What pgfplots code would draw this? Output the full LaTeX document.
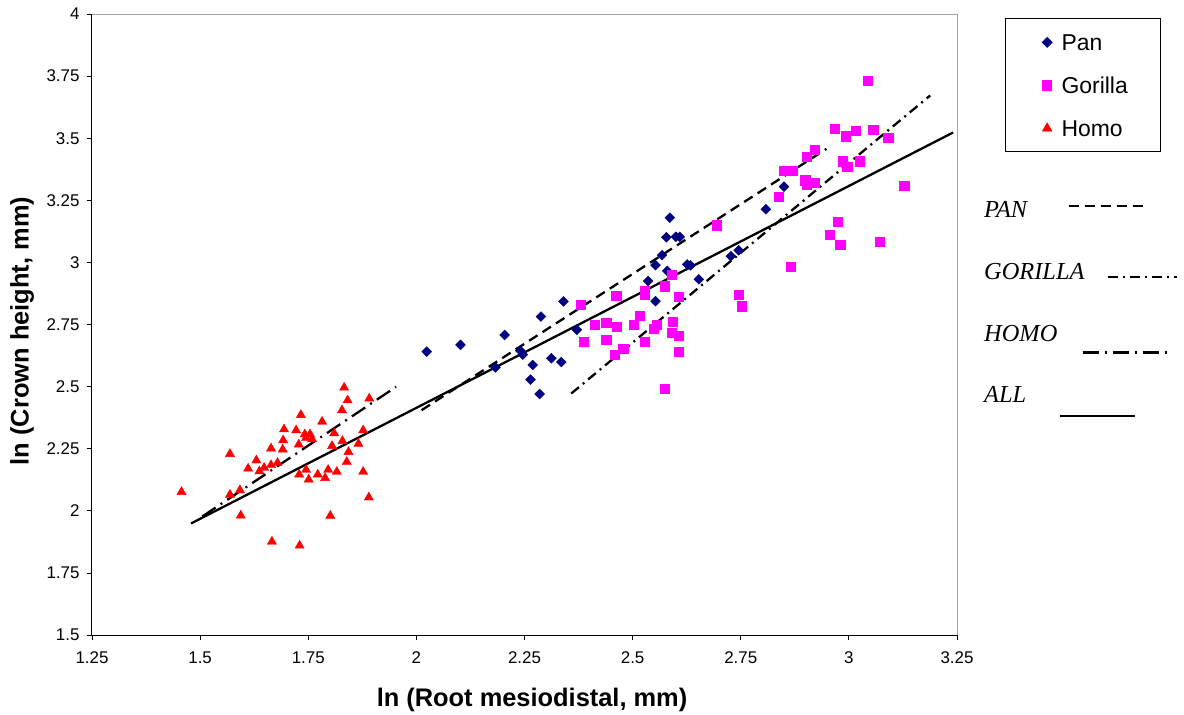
\documentclass[border=0pt]{standalone}
\usepackage{fontspec}
\setmainfont{Liberation Sans}
\newfontfamily\timesfont{Liberation Serif}
\usepackage{pgfplots}
\pgfplotsset{compat=1.18}
\definecolor{pancol}{RGB}{0,0,128}
\definecolor{gorcol}{RGB}{255,0,255}
\definecolor{homcol}{RGB}{255,0,0}
\begin{document}
\begin{tikzpicture}
\useasboundingbox (-92bp,-80bp) rectangle (1092bp,635bp);
\begin{axis}[
 scale only axis, width=865bp, height=621bp,
 xmin=1.25, xmax=3.25, ymin=1.5, ymax=4,
 axis lines*=left,
 axis line style={black, line width=1bp},
 xtick={1.25,1.5,1.75,2,2.25,2.5,2.75,3,3.25},
 ytick={1.5,1.75,2,2.25,2.5,2.75,3,3.25,3.5,3.75,4},
 tick align=outside, major tick length=5bp,
 tick style={black, line width=0.8bp},
 /pgf/number format/assume math mode=true,
 ticklabel style={font=\fontsize{17}{17}\selectfont},
 xticklabel style={yshift=-8bp},
 yticklabel style={xshift=-4bp},
 xlabel={ln (Root mesiodistal, mm)},
 ylabel={ln (Crown height, mm)},
 xlabel style={font=\bfseries\fontsize{25.5}{25.5}\selectfont, at={(axis description cs:0.5087,-0.1047)}, anchor=center},
 ylabel style={font=\bfseries\fontsize{25.5}{25.5}\selectfont, at={(axis description cs:-0.0809,0.4895)}, anchor=center},
 clip=false,
 legend style={at={(axis description cs:1.2358,0.9928)}, anchor=north east, draw=black, line width=0.8bp, fill=white,
   font=\fontsize{23}{23}\selectfont, inner xsep=5bp, inner ysep=15.5bp, row sep=27bp,
   nodes={inner sep=0pt, text height=16bp, text depth=0bp}},
 legend cell align=left,
 legend image code/.code={\path (-36bp,0bp) (14bp,0bp); \draw plot coordinates {(0bp,0bp)};},
]
\addplot[only marks, mark=square*, mark size=3.5bp, color=pancol, mark options={rotate=45, fill=pancol, draw=pancol}] coordinates {
(2.024,2.641) (2.102,2.668) (2.204,2.708) (2.288,2.782) (2.340,2.843) (2.183,2.577)
(2.240,2.645) (2.246,2.629) (2.269,2.587) (2.264,2.528) (2.285,2.470) (2.312,2.614)
(2.335,2.599) (2.371,2.729) (2.553,2.844) (2.536,2.925) (2.553,2.989) (2.568,3.029)
(2.580,2.966) (2.586,3.180) (2.578,3.101) (2.600,3.103) (2.609,3.103) (2.626,2.992)
(2.634,2.988) (2.653,2.932) (2.727,3.025) (2.745,3.049) (2.808,3.214) (2.850,3.305)
};
\addlegendentry{Pan}
\addplot[only marks, mark=square*, mark size=4.6bp, color=gorcol, mark options={fill=gorcol, draw=gorcol}] coordinates {
(2.380,2.830) (2.462,2.867) (2.412,2.749) (2.439,2.757) (2.464,2.742) (2.387,2.682)
(2.439,2.688) (2.478,2.652) (2.458,2.627) (2.503,2.750) (2.516,2.786) (2.528,2.885)
(2.528,2.871) (2.574,2.904) (2.590,2.952) (2.607,2.863) (2.549,2.733) (2.555,2.750)
(2.527,2.680) (2.592,2.762) (2.591,2.716) (2.607,2.706) (2.607,2.642) (2.574,2.492)
(2.694,3.150) (3.043,3.730) (2.968,3.538) (2.992,3.508) (3.015,3.530) (3.056,3.535)
(3.091,3.502) (2.921,3.454) (2.903,3.427) (2.850,3.370) (2.871,3.370) (2.985,3.407)
(2.996,3.384) (3.025,3.407) (2.899,3.331) (2.902,3.315) (2.920,3.322) (2.838,3.264)
(3.128,3.309) (2.975,3.164) (2.955,3.110) (2.980,3.072) (3.072,3.083) (2.866,2.982)
(2.746,2.871) (2.753,2.824)
};
\addlegendentry{\makebox[94bp][l]{Gorilla}}
\addplot[only marks, mark=triangle*, mark size=5.3bp, color=homcol, mark options={fill=homcol, draw=homcol}] coordinates {
(1.833,2.496) (1.841,2.445) (1.891,2.452) (1.828,2.405) (1.733,2.386) (1.782,2.359)
(1.694,2.328) (1.722,2.324) (1.742,2.308) (1.754,2.308) (1.810,2.312) (1.877,2.324)
(1.692,2.284) (1.728,2.267) (1.745,2.294) (1.759,2.288) (1.829,2.281) (1.866,2.270)
(1.805,2.261) (1.664,2.251) (1.691,2.247) (1.843,2.237) (1.569,2.229) (1.630,2.203)
(1.839,2.197) (1.611,2.170) (1.637,2.159) (1.648,2.173) (1.664,2.184) (1.679,2.193)
(1.745,2.165) (1.729,2.146) (1.751,2.126) (1.772,2.146) (1.789,2.132) (1.796,2.165)
(1.816,2.157) (1.877,2.157) (1.457,2.076) (1.569,2.065) (1.592,2.083) (1.890,2.054)
(1.594,1.981) (1.801,1.980) (1.666,1.876) (1.730,1.860)
};
\addlegendentry{Homo}
\addplot[forget plot, black, line width=2.3bp, line cap=butt] coordinates {(1.479,1.949) (3.241,3.523)};
\addplot[forget plot, black, line width=2.3bp, line cap=butt, dash pattern=on 10bp off 6bp] coordinates {(2.012,2.405) (2.948,3.457)};
\addplot[forget plot, black, line width=2.3bp, line cap=butt, dash pattern=on 10bp off 5bp on 2bp off 5bp] coordinates {(2.358,2.472) (3.188,3.672)};
\addplot[forget plot, black, line width=2.3bp, line cap=butt, dash pattern=on 16bp off 6bp on 2bp off 6bp] coordinates {(1.505,1.977) (1.953,2.499)};
\end{axis}
\draw[gray!70, line width=0.8bp] (0,621bp) -- (865bp,621bp) -- (865bp,0bp);
\begin{scope}[font=\timesfont\itshape\fontsize{24.5}{24.5}\selectfont]
\node[anchor=base west, inner sep=0pt] at (892bp,417.5bp) {PAN};
\node[anchor=base west, inner sep=0pt] at (892bp,355bp) {GORILLA};
\node[anchor=base west, inner sep=0pt] at (892bp,293bp) {HOMO};
\node[anchor=base west, inner sep=0pt] at (892bp,232bp) {ALL};
\end{scope}
\draw[black, line width=2.3bp, line cap=butt, dash pattern=on 10bp off 6bp] (976.5bp,429bp) -- (1055.5bp,429bp);
\draw[black, line width=2.3bp, line cap=butt, dash pattern=on 10bp off 5bp on 2bp off 5bp] (1015.5bp,358.2bp) -- (1085bp,358.2bp);
\draw[black, line width=2.3bp, line cap=butt, dash pattern=on 16bp off 6bp on 2bp off 6bp] (990.7bp,282.6bp) -- (1076.5bp,282.6bp);
\draw[black, line width=2.3bp, line cap=butt] (968bp,219.2bp) -- (1043bp,219.2bp);
\end{tikzpicture}
\end{document}
